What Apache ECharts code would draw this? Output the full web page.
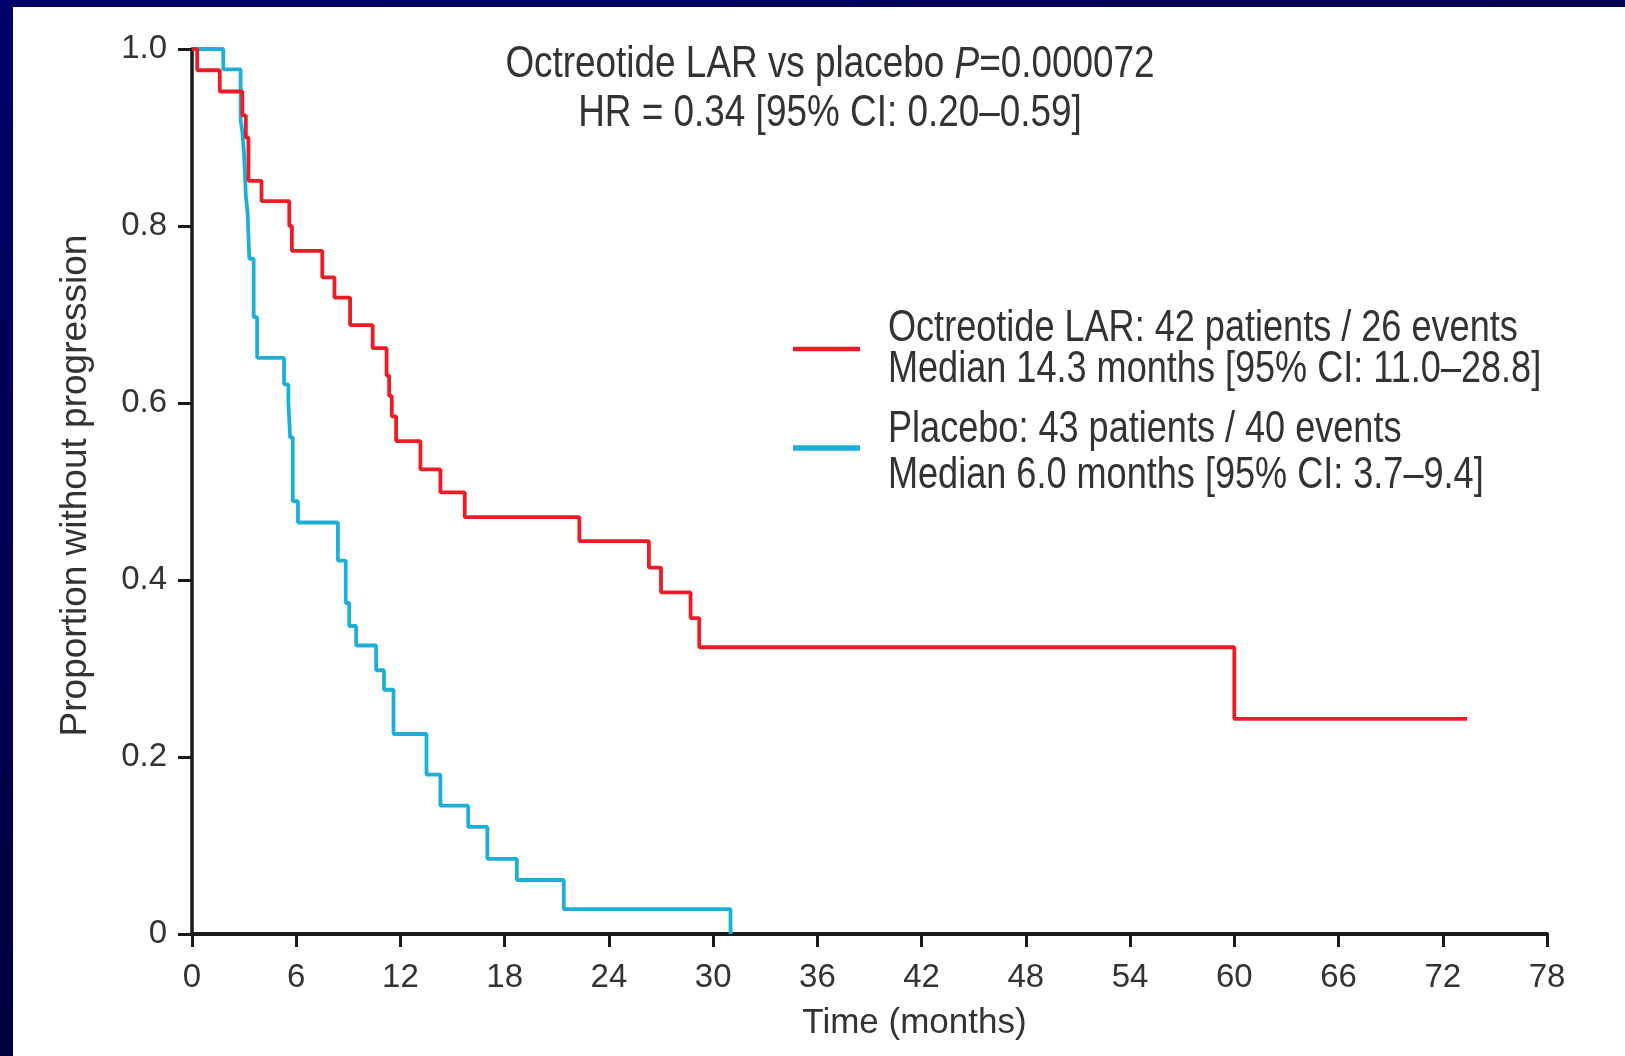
<!DOCTYPE html>
<html>
<head>
<meta charset="utf-8">
<title>Octreotide LAR vs placebo</title>
<script src="https://cdn.jsdelivr.net/npm/echarts@6/dist/echarts.min.js"></script>
<style>
  html, body { margin: 0; padding: 0; }
  body { width: 1625px; height: 1056px; overflow: hidden; position: relative;
         background: linear-gradient(160deg, #00006a 0%, #000048 50%, #00002a 100%); }
  #chart { position: absolute; left: 13px; top: 7px; width: 1612px; height: 1049px; background: #fff; }
</style>
</head>
<body>
<div id="chart"></div>
<script>
// Kaplan-Meier curves (time in months, proportion without progression)
const octreotideTime = [0, 0.3, 1.6, 2.9, 3.1, 3.25, 4.0, 5.6, 5.75, 7.5, 8.2, 9.1, 10.4, 11.2, 11.35, 11.5, 11.75, 13.15, 14.3, 15.7, 22.3, 26.3, 27.0, 28.7, 29.2, 60.0, 73.4];
const octreotideSurv = [1.0, 0.976, 0.952, 0.925, 0.90, 0.851, 0.828, 0.80, 0.772, 0.742, 0.719, 0.688, 0.662, 0.631, 0.608, 0.585, 0.557, 0.525, 0.499, 0.471, 0.444, 0.414, 0.386, 0.357, 0.324, 0.243, 0.243];
const placeboTime = [0, 1.8, 2.8, 2.9, 3.0, 3.1, 3.2, 3.3, 3.55, 3.75, 5.3, 5.55, 5.65, 5.8, 6.1, 8.4, 8.85, 9.05, 9.45, 10.6, 11.05, 11.6, 13.5, 14.3, 15.9, 17.0, 18.7, 21.4, 31.0];
const placeboSurv = [1.0, 0.977, 0.92, 0.906, 0.88, 0.834, 0.815, 0.763, 0.697, 0.651, 0.621, 0.60, 0.561, 0.489, 0.465, 0.422, 0.374, 0.348, 0.326, 0.298, 0.276, 0.226, 0.18, 0.145, 0.121, 0.085, 0.061, 0.028, 0.0];

const xTicks = [0, 6, 12, 18, 24, 30, 36, 42, 48, 54, 60, 66, 72, 78];

const titleLines = ['Octreotide LAR vs placebo {i|P}=0.000072', 'HR = 0.34 [95% CI: 0.20\u20130.59]'];
const legendLines = [
  ['Octreotide LAR: 42 patients / 26 events', 'Median 14.3 months [95% CI: 11.0\u201328.8]'],
  ['Placebo: 43 patients / 40 events', 'Median 6.0 months [95% CI: 3.7\u20139.4]']
];

const RED = '#ec1c26';
const BLUE = '#1cb0d8';
const TXT = '#333';
const FONT = "'Liberation Sans', Arial, sans-serif";
const NARROW = 0.82; // 压窄字体, 模仿 Arial Narrow

const chart = echarts.init(document.getElementById('chart'), null, { renderer: 'canvas' });

function zip(xs, ys) { return xs.map((x, i) => [x, ys[i]]); }

// 标题与图例用 graphic 画
const graphics = [];
const titleY = [58, 107];
titleLines.forEach((t, i) => {
  graphics.push({
    type: 'text', x: 817, y: titleY[i], scaleX: NARROW,
    style: {
      text: t, fill: TXT, font: '45px ' + FONT, align: 'center', verticalAlign: 'middle',
      rich: { i: { fontStyle: 'italic', fontSize: 45, fontFamily: FONT, fill: TXT } }
    }
  });
});
const legendColors = [RED, BLUE];
const legendWidths = [4.5, 5.5];
const legendLineY = [342, 441];
const legendTextY = [[322, 363], [423, 469]];
legendLines.forEach((pair, i) => {
  graphics.push({
    type: 'line', shape: { x1: 780, y1: legendLineY[i], x2: 847, y2: legendLineY[i] },
    style: { stroke: legendColors[i], lineWidth: legendWidths[i] }
  });
  pair.forEach((t, j) => {
    graphics.push({
      type: 'text', x: 875, y: legendTextY[i][j], scaleX: NARROW,
      style: { text: t, fill: TXT, font: '44px ' + FONT, align: 'left', verticalAlign: 'middle' }
    });
  });
});

const option = {
  animation: false,
  backgroundColor: '#fff',
  grid: { left: 179, top: 42, right: 78, bottom: 122 },
  xAxis: {
    type: 'value', min: 0, max: 78, interval: 6,
    name: 'Time (months)', nameLocation: 'middle', nameGap: 72,
    // 原图的轴名略偏右
    nameTextStyle: { fontFamily: FONT, fontSize: 35, color: TXT, padding: [0, 0, 0, 90] },
    axisLine: { show: true, onZero: false, lineStyle: { color: '#1a1a1a', width: 4 } },
    axisTick: { show: true, length: 13, lineStyle: { color: '#1a1a1a', width: 3 } },
    axisLabel: { margin: 27, fontFamily: FONT, fontSize: 33, color: TXT, customValues: xTicks },
    splitLine: { show: false }
  },
  yAxis: {
    type: 'value', min: 0, max: 1, interval: 0.2,
    name: 'Proportion without progression', nameLocation: 'middle', nameGap: 98,
    nameTextStyle: { fontFamily: FONT, fontSize: 37, color: TXT, padding: [0, 0, 0, 12] },
    axisLine: { show: true, lineStyle: { color: '#1a1a1a', width: 3.5 } },
    axisTick: { show: true, length: 14, lineStyle: { color: '#1a1a1a', width: 3 } },
    axisLabel: { margin: 25, fontFamily: FONT, fontSize: 33, color: TXT,
      formatter: v => (v === 0 ? '0' : v.toFixed(1)) },
    splitLine: { show: false }
  },
  series: [
    {
      name: 'Octreotide LAR', type: 'line', step: 'end', showSymbol: false,
      data: zip(octreotideTime, octreotideSurv),
      lineStyle: { color: RED, width: 3.8 }, itemStyle: { color: RED }, z: 3
    },
    {
      name: 'Placebo', type: 'line', step: 'end', showSymbol: false,
      data: zip(placeboTime, placeboSurv),
      lineStyle: { color: BLUE, width: 3.8 }, itemStyle: { color: BLUE }, z: 2
    }
  ],
  graphic: graphics
};
chart.setOption(option);
</script>
</body>
</html>
